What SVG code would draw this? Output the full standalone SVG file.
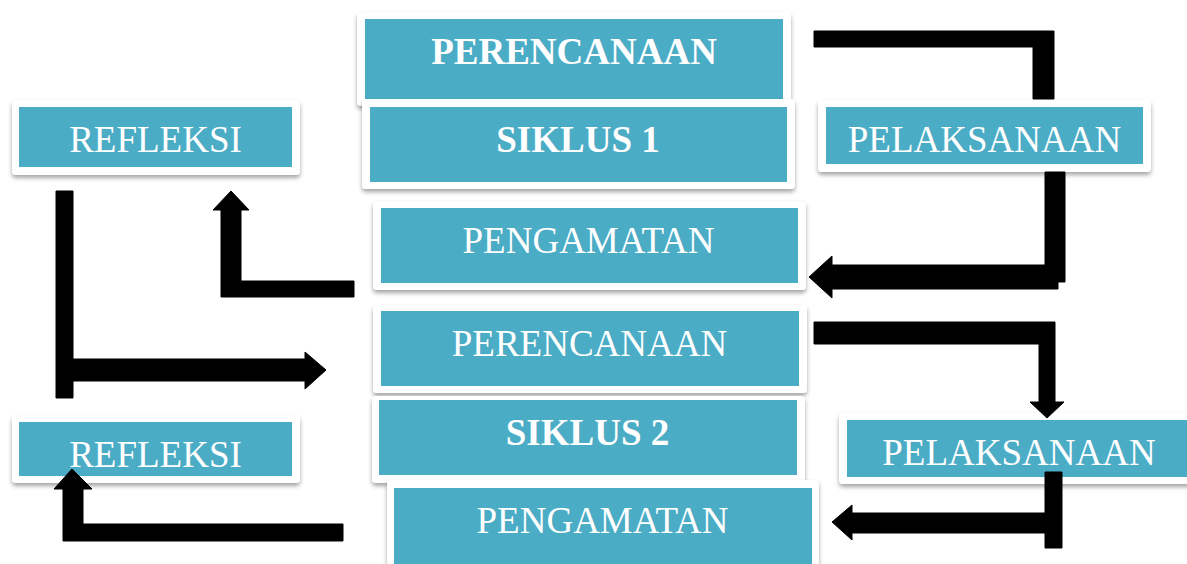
<svg xmlns="http://www.w3.org/2000/svg" width="1187" height="564" viewBox="0 0 1187 564">
<defs>
<filter id="sh" x="-10%" y="-20%" width="120%" height="150%">
<feDropShadow dx="0" dy="3" stdDeviation="2" flood-color="#000" flood-opacity="0.35"/>
</filter>
<style>
.frame{fill:#fff;filter:url(#sh)}
.fill{fill:#4bacc6}
.t{font-family:"Liberation Serif","Times New Roman",serif;font-size:37px;fill:#fff;text-anchor:middle}
.b{font-weight:bold}
.conn path{fill:#000;stroke:#000;stroke-width:1;stroke-linejoin:round}
</style>
</defs>
<rect width="1187" height="564" fill="#fff"/>
<g id="perencanaan1">
<rect class="frame" x="357" y="12" width="434" height="94" rx="4"/>
<rect class="fill" x="365" y="19" width="418" height="80"/>
<text class="t b" x="574" y="64">PERENCANAAN</text>
</g>
<g id="siklus1">
<rect class="frame" x="362" y="99" width="433" height="90" rx="4"/>
<rect class="fill" x="370" y="107" width="417" height="75"/>
<text class="t b" x="578" y="152">SIKLUS 1</text>
</g>
<g id="refleksi1">
<rect class="frame" x="12" y="100" width="288" height="75" rx="4"/>
<rect class="fill" x="19" y="107" width="273" height="60"/>
<text class="t" x="155.5" y="152">REFLEKSI</text>
</g>
<g id="pelaksanaan1">
<rect class="frame" x="818" y="100" width="333" height="72" rx="4"/>
<rect class="fill" x="826" y="107" width="317" height="57"/>
<text class="t" x="984.5" y="152">PELAKSANAAN</text>
</g>
<g id="pengamatan1">
<rect class="frame" x="373" y="201" width="433" height="89" rx="4"/>
<rect class="fill" x="381" y="208" width="417" height="75"/>
<text class="t" x="588.5" y="253">PENGAMATAN</text>
</g>
<g id="perencanaan2">
<rect class="frame" x="373" y="305" width="434" height="88" rx="4"/>
<rect class="fill" x="381" y="311" width="418" height="75"/>
<text class="t" x="589.5" y="356">PERENCANAAN</text>
</g>
<g id="siklus2">
<rect class="frame" x="372" y="396" width="433" height="87" rx="4"/>
<rect class="fill" x="379" y="400" width="418" height="75"/>
<text class="t b" x="587.5" y="445">SIKLUS 2</text>
</g>
<g id="pengamatan2">
<rect class="frame" x="387" y="480" width="432" height="95" rx="4"/>
<rect class="fill" x="394" y="488" width="418" height="80"/>
<text class="t" x="602.5" y="533">PENGAMATAN</text>
</g>
<g id="refleksi2">
<rect class="frame" x="12" y="415" width="288" height="68" rx="4"/>
<rect class="fill" x="19" y="422" width="273" height="54"/>
<text class="t" x="155.5" y="467">REFLEKSI</text>
</g>
<g id="pelaksanaan2">
<rect class="frame" x="839" y="413" width="360" height="71" rx="4"/>
<rect class="fill" x="847" y="420" width="344" height="57"/>
<text class="t" x="1019" y="465">PELAKSANAAN</text>
</g>
<g id="connectors" class="conn">
<path d="M814,31 H1054 V99 H1033 V47 H814 Z"/>
<path d="M1045,172 H1065 V282 H1058 V289 H832 V298 L809,277 L832,256 V265 H1045 Z"/>
<path d="M354,281 V297 H221 V210 H213 L231,191 L249,210 H241 V281 Z"/>
<path d="M56,191 H73 V359 H305 V352 L326,370 L305,389 V381 H73 V398 H56 Z"/>
<path d="M814,322 H1055 V402 H1064 L1047,418 L1030,402 H1039 V344 H814 Z"/>
<path d="M1045,472 H1062 V548 H1045 V533 H852 V540 L832,522 L852,505 V513 H1045 Z"/>
<path d="M343,524 V541 H63 V489 H54 L72,469 L92,489 H83 V524 Z"/>
</g>
</svg>
